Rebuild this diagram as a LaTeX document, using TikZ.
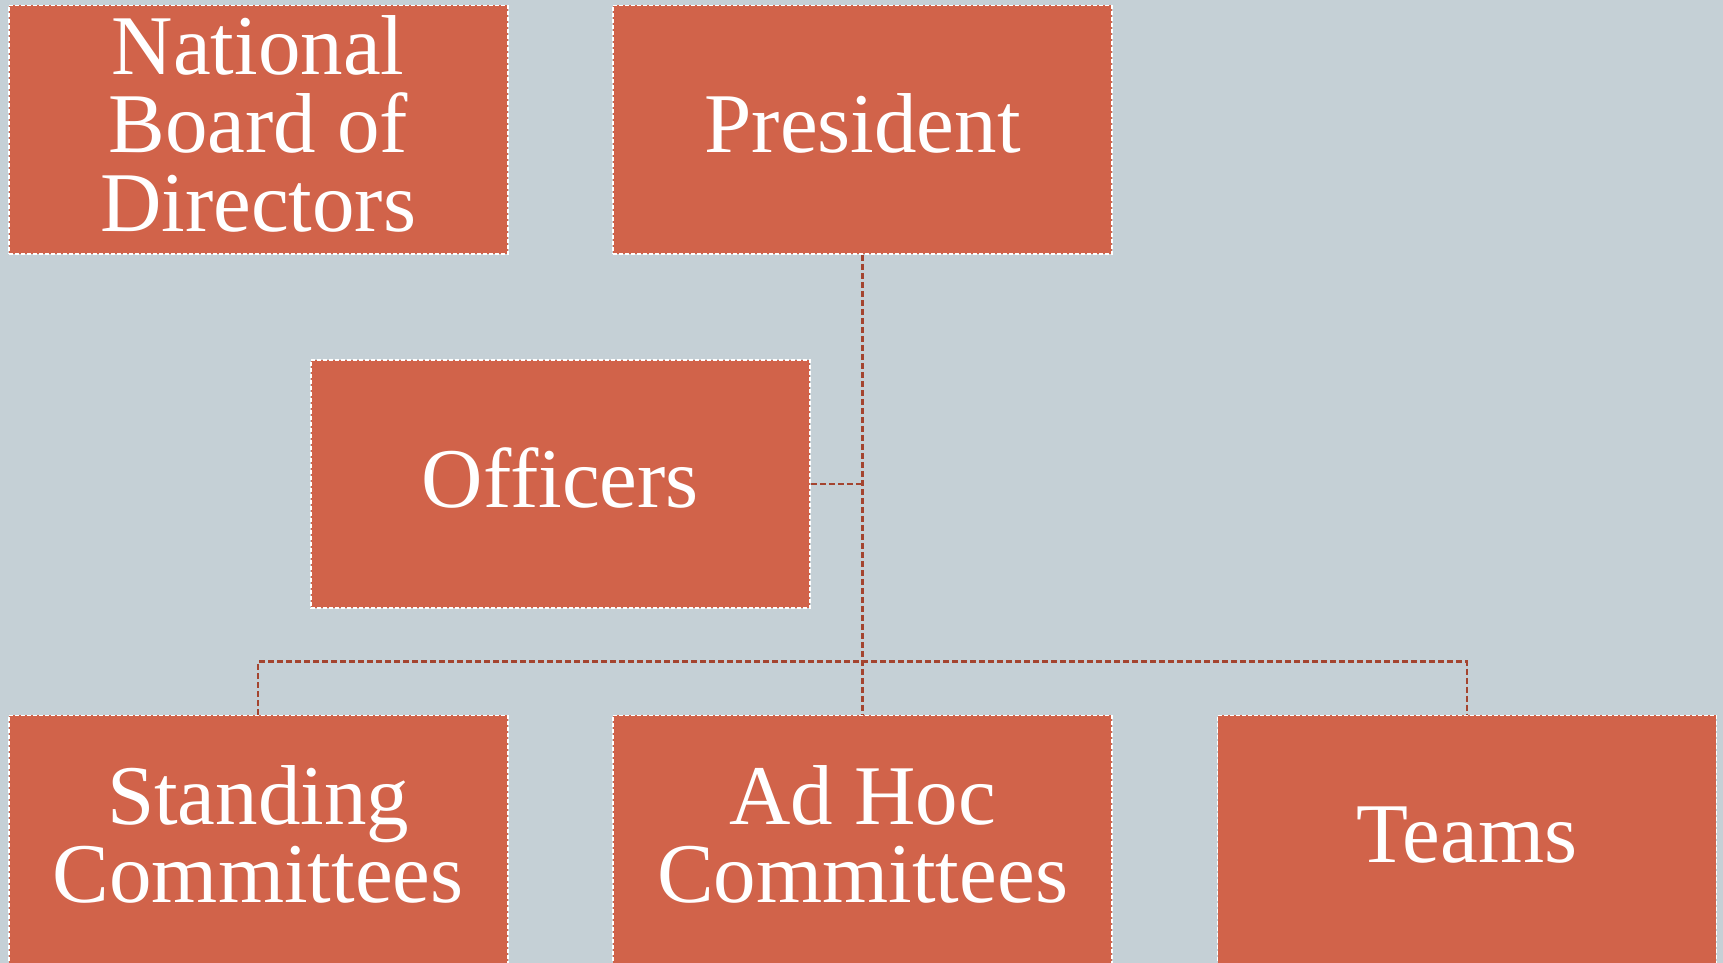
\documentclass[tikz,border=0pt]{standalone}
\usepackage{fontspec}
\setmainfont{Liberation Serif}
\definecolor{bg}{HTML}{C5D0D6}
\definecolor{boxfill}{HTML}{D1634A}
\definecolor{conn}{HTML}{A4442F}
\begin{document}
\begin{tikzpicture}[x=1pt,y=1pt,
  orgbox/.style={rectangle, fill=boxfill, draw=white, line width=1.8pt,
    dash pattern=on 4pt off 2pt, minimum width=498.9pt, minimum height=248.4pt,
    inner sep=0pt},
  lbl/.style={inner sep=0pt, align=center, text=white,
    font=\fontsize{85}{78.6}\selectfont},
  link/.style={draw=conn, line width=2.4pt, dash pattern=on 6pt off 3pt}]
\fill[bg] (0,0) rectangle (1723,-963);
\useasboundingbox (0,0) rectangle (1723,-963);
\node[orgbox] (nbd) at (258.2,-129.7) {};
\node[orgbox] (pres) at (862.6,-129.7) {};
\node[orgbox] (off) at (560.4,-484) {};
\node[orgbox] (stand) at (258.2,-839.6) {};
\node[orgbox] (adhoc) at (862.6,-839.6) {};
\node[orgbox] (teams) at (1467,-839.6) {};
\node[lbl] (nbdt) at ([yshift=6pt]nbd.center) {National\\Board of\\Directors};
\node[lbl] (prest) at ([yshift=6pt]pres.center) {President};
\node[lbl] (offt) at ([yshift=6pt]off.center) {Officers};
\node[lbl] (standt) at ([yshift=5pt]stand.center) {Standing\\Committees};
\node[lbl] (adhoct) at ([yshift=5pt]adhoc.center) {Ad Hoc\\Committees};
\node[lbl] (teamst) at ([yshift=5pt]teams.center) {Teams};
\coordinate (bus) at (862.6,-661.5);
\draw[link] (pres.south) -- (adhoc.north);
\draw[link] (off.east) -- (off.east -| pres.south);
\draw[link] (stand.north) |- (bus) -| (teams.north);
\end{tikzpicture}
\end{document}
